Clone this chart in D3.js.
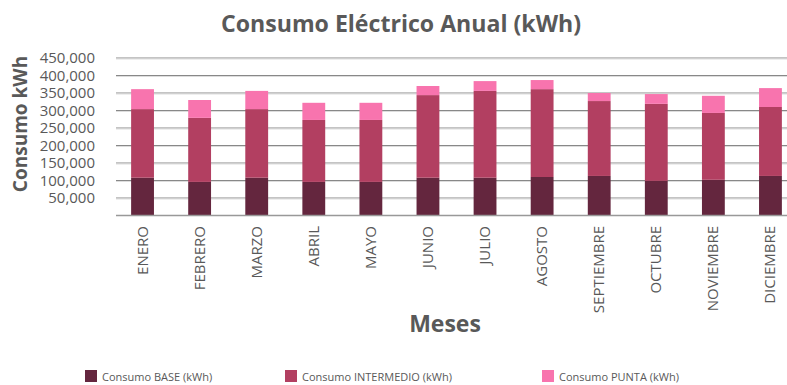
<!DOCTYPE html>
<html>
<head>
<meta charset="utf-8">
<script src="https://cdn.jsdelivr.net/npm/d3@7"></script>
<style>
  body { margin: 0; background: #fff; }
  svg { font-family: "Open Sans", sans-serif; }
</style>
</head>
<body>
<svg id="chart" width="787" height="385"></svg>
<script>
const MONTHS = ["ENERO", "FEBRERO", "MARZO", "ABRIL", "MAYO", "JUNIO", "JULIO", "AGOSTO", "SEPTIEMBRE", "OCTUBRE", "NOVIEMBRE", "DICIEMBRE"]
const BASE = [108000, 96000, 108000, 96000, 96000, 108000, 108000, 110000, 113000, 99000, 102000, 113000]
const INTERMEDIO = [196000, 183000, 196000, 177000, 177000, 236000, 248000, 251000, 214000, 220000, 191000, 197000]
const PUNTA = [57000, 51000, 52000, 49000, 49000, 26000, 28000, 26000, 23000, 28000, 49000, 54000]
const Y_TICKS = [50000, 100000, 150000, 200000, 250000, 300000, 350000, 400000, 450000]
const SERIES_NAMES = ["Consumo BASE (kWh)", "Consumo INTERMEDIO (kWh)", "Consumo PUNTA (kWh)"]
const COLORS = ["#64263e", "#b23f61", "#f874ae"]

const svg = d3.select("#chart")
const TEXT_COLOR = "#595959"

const X_SCALE = d3.scaleBand()
    .domain(MONTHS)
    .range([114, 799])
    .paddingInner(0.6)
    .paddingOuter(0.3)

const Y_SCALE = d3.scaleLinear()
    .domain([0, 450000])
    .range([215.5, 58])

// gridlines
svg.append("g")
    .selectAll("line")
    .data(Y_TICKS)
    .join("line")
    .attr("x1", 116)
    .attr("x2", 787)
    .attr("y1", d => Y_SCALE(d))
    .attr("y2", d => Y_SCALE(d))
    .attr("stroke", "#888")
    .attr("stroke-width", 1)
svg.append("g")
    .selectAll("line")
    .data(Y_TICKS)
    .join("line")
    .attr("x1", 116)
    .attr("x2", 787)
    .attr("y1", d => Y_SCALE(d) + 1)
    .attr("y2", d => Y_SCALE(d) + 1)
    .attr("stroke", "#ddd")
    .attr("stroke-width", 1)

// stacked bars
const rows = MONTHS.map((m, i) => ({month: m, base: BASE[i], inter: INTERMEDIO[i], punta: PUNTA[i]}))
const stack = d3.stack().keys(["base", "inter", "punta"])(rows)

svg.append("g")
    .selectAll("g")
    .data(stack)
    .join("g")
    .attr("fill", (d, i) => COLORS[i])
    .selectAll("rect")
    .data(d => d)
    .join("rect")
    .attr("x", d => X_SCALE(d.data.month))
    .attr("width", X_SCALE.bandwidth())
    .attr("y", d => Y_SCALE(d[1]))
    .attr("height", d => Y_SCALE(d[0]) - Y_SCALE(d[1]))

// x axis line
svg.append("line")
    .attr("x1", 116)
    .attr("x2", 787)
    .attr("y1", Y_SCALE(0))
    .attr("y2", Y_SCALE(0))
    .attr("stroke", "#999")
    .attr("stroke-width", 1.5)

// y axis labels
const yAxis = svg.append("g")
    .attr("transform", "translate(95,0)")
    .call(d3.axisLeft(Y_SCALE).tickValues(Y_TICKS).tickSize(0).tickPadding(0).tickFormat(d3.format(",")))
yAxis.select(".domain").remove()
yAxis.selectAll("text")
    .attr("font-family", "Open Sans, sans-serif")
    .attr("font-size", "15px")
    .attr("fill", TEXT_COLOR)

// x axis labels (rotated)
svg.append("g")
    .selectAll("text")
    .data(MONTHS)
    .join("text")
    .attr("transform", d => `translate(${X_SCALE(d) + X_SCALE.bandwidth() / 2 + 5}, 226) rotate(-90)`)
    .attr("text-anchor", "end")
    .attr("font-size", "15px")
    .attr("fill", TEXT_COLOR)
    .text(d => d)

// titles
svg.append("text")
    .attr("x", 401)
    .attr("y", 32)
    .attr("text-anchor", "middle")
    .attr("font-size", "24px")
    .attr("font-weight", "bold")
    .attr("textLength", 360)
    .attr("lengthAdjust", "spacingAndGlyphs")
    .attr("fill", TEXT_COLOR)
    .text("Consumo Eléctrico Anual (kWh)")

svg.append("text")
    .attr("transform", "translate(27, 124) rotate(-90)")
    .attr("text-anchor", "middle")
    .attr("font-size", "19px")
    .attr("font-weight", "bold")
    .attr("fill", TEXT_COLOR)
    .text("Consumo kWh")

svg.append("text")
    .attr("x", 445)
    .attr("y", 332)
    .attr("text-anchor", "middle")
    .attr("font-size", "23px")
    .attr("font-weight", "bold")
    .attr("fill", TEXT_COLOR)
    .text("Meses")

// legend
const LEGEND_X = [85, 285, 542]
const legend = svg.append("g")
    .selectAll("g")
    .data(SERIES_NAMES)
    .join("g")
    .attr("transform", (d, i) => `translate(${LEGEND_X[i]}, 370)`)
legend.append("rect")
    .attr("width", 12)
    .attr("height", 12)
    .attr("fill", (d, i) => COLORS[i])
legend.append("text")
    .attr("x", 17)
    .attr("y", 10.5)
    .attr("font-size", "11px")
    .attr("fill", TEXT_COLOR)
    .text(d => d)
</script>
</body>
</html>
